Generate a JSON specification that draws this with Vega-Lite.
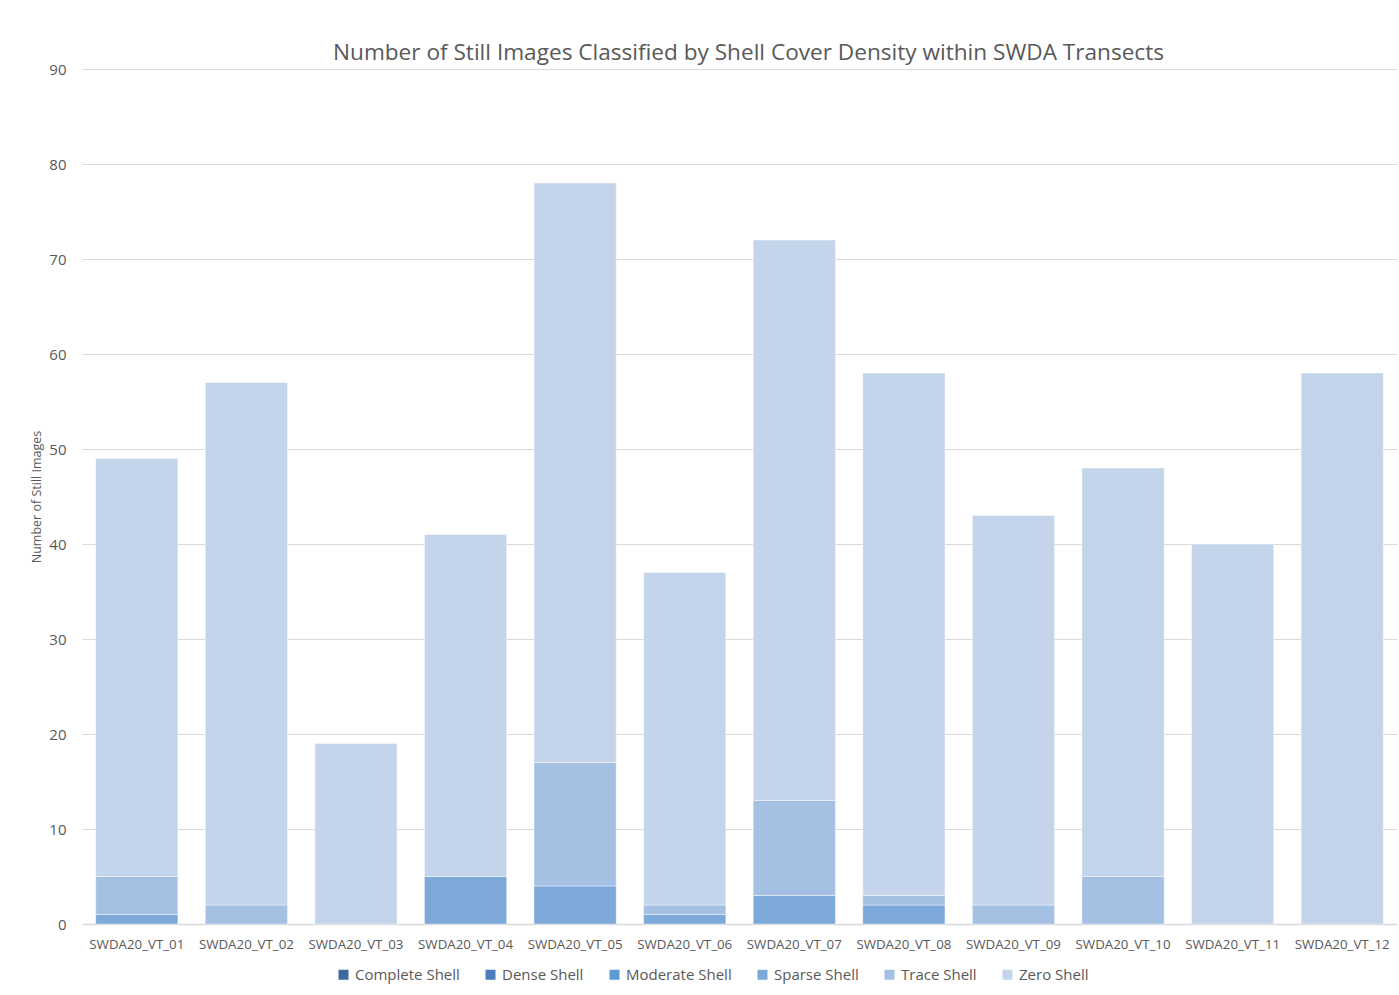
{
  "$schema": "https://vega.github.io/schema/vega-lite/v6.json",
  "autosize": {"type": "none"},
  "width": 1315,
  "height": 855,
  "padding": {"left": 82, "top": 69, "right": 2, "bottom": 71},
  "background": "white",
  "title": {
    "text": "Number of Still Images Classified by Shell Cover Density within SWDA Transects",
    "font": "Open Sans",
    "fontSize": 22.6,
    "fontWeight": "normal",
    "color": "#595959",
    "anchor": "middle",
    "dx": 9,
    "offset": -3
  },
  "data": {
    "values": [
      {"transect": "SWDA20_VT_01", "density": "Sparse Shell", "count": 1},
      {"transect": "SWDA20_VT_01", "density": "Trace Shell", "count": 4},
      {"transect": "SWDA20_VT_01", "density": "Zero Shell", "count": 44},
      {"transect": "SWDA20_VT_02", "density": "Trace Shell", "count": 2},
      {"transect": "SWDA20_VT_02", "density": "Zero Shell", "count": 55},
      {"transect": "SWDA20_VT_03", "density": "Zero Shell", "count": 19},
      {"transect": "SWDA20_VT_04", "density": "Sparse Shell", "count": 5},
      {"transect": "SWDA20_VT_04", "density": "Zero Shell", "count": 36},
      {"transect": "SWDA20_VT_05", "density": "Sparse Shell", "count": 4},
      {"transect": "SWDA20_VT_05", "density": "Trace Shell", "count": 13},
      {"transect": "SWDA20_VT_05", "density": "Zero Shell", "count": 61},
      {"transect": "SWDA20_VT_06", "density": "Sparse Shell", "count": 1},
      {"transect": "SWDA20_VT_06", "density": "Trace Shell", "count": 1},
      {"transect": "SWDA20_VT_06", "density": "Zero Shell", "count": 35},
      {"transect": "SWDA20_VT_07", "density": "Sparse Shell", "count": 3},
      {"transect": "SWDA20_VT_07", "density": "Trace Shell", "count": 10},
      {"transect": "SWDA20_VT_07", "density": "Zero Shell", "count": 59},
      {"transect": "SWDA20_VT_08", "density": "Sparse Shell", "count": 2},
      {"transect": "SWDA20_VT_08", "density": "Trace Shell", "count": 1},
      {"transect": "SWDA20_VT_08", "density": "Zero Shell", "count": 55},
      {"transect": "SWDA20_VT_09", "density": "Trace Shell", "count": 2},
      {"transect": "SWDA20_VT_09", "density": "Zero Shell", "count": 41},
      {"transect": "SWDA20_VT_10", "density": "Trace Shell", "count": 5},
      {"transect": "SWDA20_VT_10", "density": "Zero Shell", "count": 43},
      {"transect": "SWDA20_VT_11", "density": "Zero Shell", "count": 40},
      {"transect": "SWDA20_VT_12", "density": "Zero Shell", "count": 58}
    ]
  },
  "mark": {"type": "bar", "stroke": "white", "strokeWidth": 0.8, "strokeOpacity": 0.5},
  "encoding": {
    "x": {
      "field": "transect",
      "type": "nominal",
      "scale": {"paddingInner": 0.25, "paddingOuter": 0.125},
      "axis": {
        "title": null,
        "labelAngle": 0,
        "labelFont": "Open Sans",
        "labelFontSize": 13.3,
        "labelColor": "#595959",
        "labelPadding": 13,
        "ticks": false,
        "domainColor": "#d9d9d9",
        "domainWidth": 1.5,
        "grid": false
      }
    },
    "y": {
      "field": "count",
      "type": "quantitative",
      "aggregate": "sum",
      "stack": "zero",
      "scale": {"domain": [0, 90], "nice": false},
      "axis": {
        "title": "Number of Still Images",
        "titleFont": "Open Sans",
        "titleFontSize": 12.5,
        "titleFontWeight": "normal",
        "titleColor": "#595959",
        "titlePadding": 5,
        "values": [0, 10, 20, 30, 40, 50, 60, 70, 80, 90],
        "labelFont": "Open Sans",
        "labelFontSize": 15,
        "labelColor": "#595959",
        "labelPadding": 16,
        "ticks": false,
        "domain": false,
        "gridColor": "#d9d9d9",
        "gridWidth": 1
      }
    },
    "order": {"field": "density", "type": "nominal", "sort": "ascending"},
    "color": {
      "field": "density",
      "type": "nominal",
      "scale": {
        "domain": ["Complete Shell", "Dense Shell", "Moderate Shell", "Sparse Shell", "Trace Shell", "Zero Shell"],
        "range": ["#3d6a9e", "#4a7dba", "#5b9bd5", "#7ca8da", "#a4c0e3", "#c4d5eb"]
      },
      "legend": {
        "title": null,
        "orient": "none",
        "legendX": 254,
        "legendY": 898,
        "direction": "horizontal",
        "symbolType": "square",
        "symbolSize": 100,
        "symbolStrokeWidth": 0,
        "labelFont": "Open Sans",
        "labelFontSize": 15,
        "labelColor": "#595959",
        "labelOffset": 4,
        "columnPadding": 23
      }
    }
  },
  "config": {
    "view": {"stroke": null}
  }
}
